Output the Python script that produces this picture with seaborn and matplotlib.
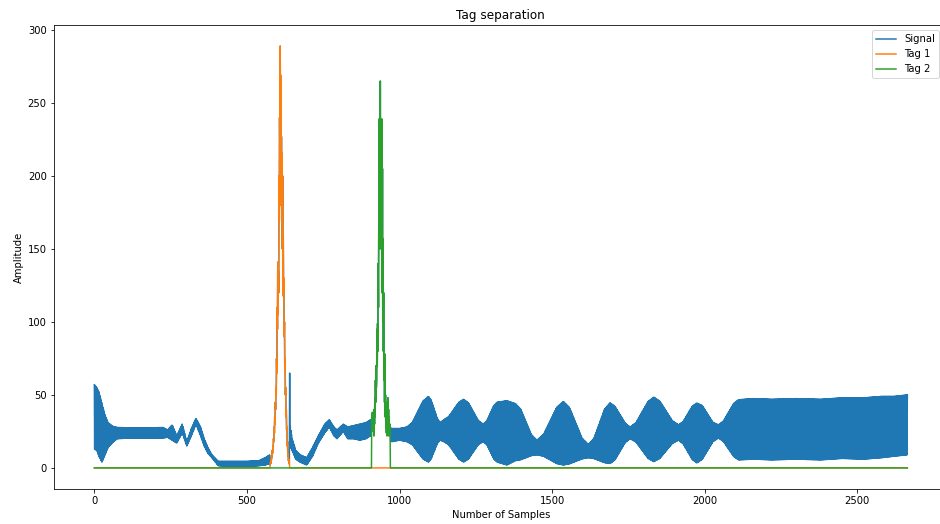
import numpy as np
import pandas as pd
import matplotlib
matplotlib.use("Agg")
import matplotlib.pyplot as plt
import seaborn as sns

# ---- data -------------------------------------------------------------
n_samples = 2665

# envelope of the fast-oscillating signal: knot sample, upper and lower amplitude
env_x = [0, 8, 15, 25, 35, 45, 60, 75, 120, 180, 225, 240, 255, 270, 288,
         303, 318, 333, 348, 360, 372, 385, 406, 450, 500, 540, 560, 575,
         640, 641, 648, 660, 674, 696, 715, 734, 755, 770, 785, 795, 816, 830,
         850, 870, 890, 905,
         975, 1000, 1024, 1042, 1077, 1095, 1104, 1124, 1133, 1145, 1161,
         1194, 1210, 1226, 1258, 1274, 1286, 1309, 1320, 1352, 1380, 1397,
         1432, 1450, 1472, 1515, 1537, 1557, 1598, 1619, 1637, 1672, 1690,
         1706, 1740, 1756, 1775, 1814, 1833, 1853, 1894, 1914, 1929, 1959,
         1974, 1992, 2027, 2045, 2061, 2095, 2111, 2160, 2220, 2300, 2380,
         2450, 2520, 2580, 2620, 2664]
env_hi = [57, 55, 52, 44, 36, 31, 28.5, 27.7, 27.5, 27.5, 27.7, 26, 29.5, 22, 30,
          18, 27, 34, 28, 20, 14, 9, 4.5, 4.5, 4.5, 5, 7, 9,
          65, 30, 20, 12, 9, 7, 14, 22, 30, 33, 28, 26, 30, 28,
          29, 30, 31, 33,
          27, 27, 28, 31.2, 45.9, 49, 46.3, 33.7, 31, 33, 35.1,
          44.9, 47, 44.5, 32.5, 30, 32.3, 42.8, 45, 46, 44, 40.3,
          22.8, 19, 23, 41.5, 45.5, 41.3, 20.4, 16, 20.3, 40.3, 44.6,
          42.1, 30.5, 28, 31.1, 45.4, 48.5, 45.7, 32.3, 29.5, 31.7, 42.2,
          44.4, 42.7, 31.2, 29.5, 32, 44.2, 46.7, 47.5, 47, 47.5, 47,
          48, 48, 49, 49, 50]
env_lo = [13, 12, 8, 4, 9, 14, 17.5, 20, 20.5, 20.5, 20.5, 21, 19, 17, 24,
          15, 22, 30, 22, 15, 10, 7, 1.5, 1, 1, 1.5, 2, 3,
          15, 15, 12, 6, 4, 2, 8, 17, 24, 28, 22, 20, 25, 20,
          20, 19, 20, 22,
          18, 19, 18, 15.9, 6.1, 4, 6.3, 16.8, 19, 18, 15.9,
          6.1, 4, 6.1, 15.9, 18, 15.9, 6.1, 4, 2, 5, 5.6,
          8.4, 9, 8, 3, 2, 2.8, 6.2, 7, 6.4, 3.6, 3,
          5.5, 17.5, 20, 17.7, 6.6, 4.3, 6.5, 16.8, 19, 16.6, 5.8,
          3.4, 5.9, 18, 20.5, 18.2, 7.8, 5.5, 6, 5.5, 6, 5.5,
          6.5, 6, 7, 8, 9]

# first tag, samples 576..639
tag1_start = 576
tag1_vals = [2, 4, 3, 6, 5, 9, 7, 12, 10, 15, 13, 20, 18, 28, 24, 35,
             30, 45, 40, 55, 50, 75, 65, 110, 95, 141, 105, 135, 120, 200,
             170, 240, 210, 289, 230, 269, 180, 227, 168, 216, 150, 200, 118,
             160, 120, 130, 90, 100, 67, 75, 50, 55, 35, 40, 26, 28, 15, 18,
             8, 10, 5, 6, 3, 4]

# second tag, samples 909..969
tag2_start = 909
tag2_vals = [35, 25, 38, 28, 36, 26, 32, 22, 40, 30, 48, 35, 60, 45, 70,
             55, 60, 95, 70, 99, 80, 140, 110, 180, 239, 170, 239, 150, 265,
             180, 239, 205, 150, 239, 120, 205, 100, 157, 80, 120, 60, 78,
             45, 78, 35, 50, 28, 45, 24, 40, 22, 35, 25, 48, 28, 40, 22, 35,
             25, 30, 28]

# ---- build series -----------------------------------------------------
samples = np.arange(n_samples)
upper = np.interp(samples, env_x, env_hi)
lower = np.interp(samples, env_x, env_lo)
signal = np.where(samples % 2 == 0, upper, lower)

tag1 = np.zeros(n_samples)
tag2 = np.zeros(n_samples)
s1 = slice(tag1_start, tag1_start + len(tag1_vals))
s2 = slice(tag2_start, tag2_start + len(tag2_vals))
tag1[s1] = tag1_vals
tag2[s2] = tag2_vals
signal[s1] = tag1_vals
signal[s2] = tag2_vals

df = pd.DataFrame({"sample": samples, "Signal": signal,
                   "Tag 1": tag1, "Tag 2": tag2})

# ---- plot -------------------------------------------------------------
W, H, DPI = 940, 524, 72
fig = plt.figure(figsize=(W / DPI, H / DPI), dpi=DPI)
ax = fig.add_axes([53.7 / W, 1 - 489 / H, (948 - 53.7) / W, (489 - 25) / H])

colors = {"Signal": "#1f77b4", "Tag 1": "#ff7f0e", "Tag 2": "#2ca02c"}
for name in ["Signal", "Tag 1", "Tag 2"]:
    sns.lineplot(data=df, x="sample", y=name, ax=ax, label=name,
                 color=colors[name], linewidth=1.5, estimator=None)

ax.set_title("Tag separation", fontsize=12)
ax.set_xlabel("Number of Samples", fontsize=10)
ax.set_ylabel("Amplitude", fontsize=10)
ax.set_xticks([0, 500, 1000, 1500, 2000, 2500])
ax.set_yticks([0, 50, 100, 150, 200, 250, 300])
ax.tick_params(labelsize=10)

ax.legend(loc="upper right", bbox_to_anchor=(939 / W, 1 - 30 / H),
          bbox_transform=fig.transFigure, borderaxespad=0, fontsize=10)

fig.savefig("out.png", dpi=DPI)
